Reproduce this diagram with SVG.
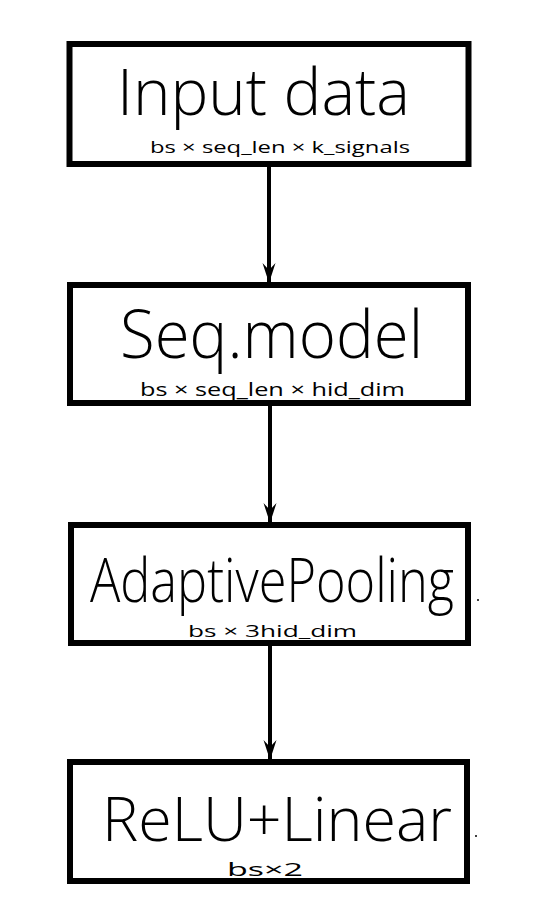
<svg xmlns="http://www.w3.org/2000/svg" width="544" height="923" viewBox="0 0 544 923">
<defs>
<style>
.box{fill:#ffffff;stroke:#000;stroke-width:6}
.title{font-family:"Open Sans","Liberation Sans",sans-serif;font-weight:300;fill:#000}
.sub{font-family:"Open Sans","Liberation Sans",sans-serif;font-weight:400;fill:#000}
.conn{stroke:#000;stroke-width:4;fill:none}
</style>
<marker id="ah" viewBox="0 0 20 14" refX="19" refY="7" markerWidth="20" markerHeight="14" markerUnits="userSpaceOnUse" orient="auto">
<path d="M0,0.5 L20,7 L0,13.5 L7,7 Z" fill="#000"/>
</marker>
</defs>
<rect width="544" height="923" fill="#ffffff"/>
<g id="connectors">
<line class="conn" x1="269" y1="165" x2="269" y2="282" marker-end="url(#ah)"/>
<line class="conn" x1="270" y1="405" x2="270" y2="522" marker-end="url(#ah)"/>
<line class="conn" x1="270" y1="645" x2="270" y2="759" marker-end="url(#ah)"/>
</g>
<g id="node-input">
<rect class="box" x="69.5" y="44" width="399" height="120"/>
<text class="title" x="117" y="115" font-size="64" textLength="293" lengthAdjust="spacingAndGlyphs">Input data</text>
<text class="sub" x="150" y="153" font-size="17" textLength="260" lengthAdjust="spacingAndGlyphs">bs × seq_len × k_signals</text>
</g>
<g id="node-seq">
<rect class="box" x="70" y="285" width="398" height="118"/>
<text class="title" x="120" y="358" font-size="66" textLength="303" lengthAdjust="spacingAndGlyphs">Seq.model</text>
<text class="sub" x="140" y="396" font-size="18" textLength="265" lengthAdjust="spacingAndGlyphs">bs × seq_len × hid_dim</text>
</g>
<g id="node-pool">
<rect class="box" x="71" y="525" width="397" height="118"/>
<text class="title" x="90" y="602" font-size="60" textLength="364" lengthAdjust="spacingAndGlyphs">AdaptivePooling</text>
<text class="sub" x="188" y="637" font-size="16" textLength="169" lengthAdjust="spacingAndGlyphs">bs × 3hid_dim</text>
<circle cx="478" cy="600" r="1" fill="#000"/>
</g>
<g id="node-relu">
<rect class="box" x="70" y="762" width="397" height="119"/>
<text class="title" x="102" y="841" font-size="60" textLength="350" lengthAdjust="spacingAndGlyphs">ReLU+Linear</text>
<text class="sub" x="227" y="876" font-size="18" textLength="76" lengthAdjust="spacingAndGlyphs">bs×2</text>
<circle cx="476" cy="836" r="1" fill="#000"/>
</g>
</svg>
